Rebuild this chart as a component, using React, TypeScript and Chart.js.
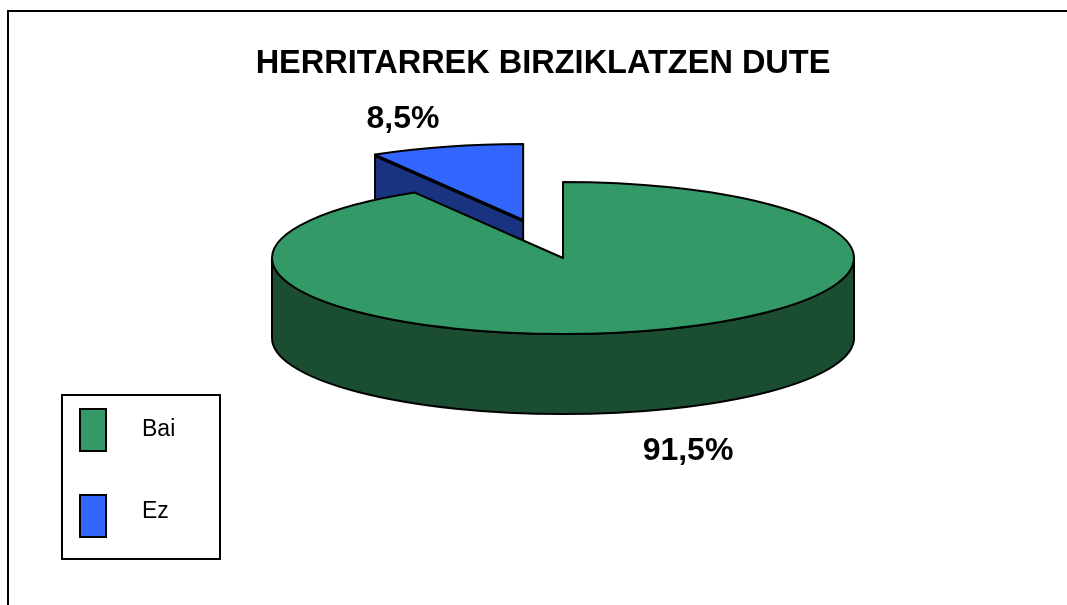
import React, { useEffect, useRef } from "react";
import { Chart, registerables } from "chart.js";

Chart.register(...registerables);

const titleText = "HERRITARREK BIRZIKLATZEN DUTE";
const categories = ["Bai", "Ez"];
const shares = [91.5, 8.5];
const pulledOut = [0, 151];
const topColors = ["#339966", "#3366FF"];
const wallColors = ["#1B4D33", "#1A3380"];

const FONT = '"Liberation Sans", Arial, sans-serif';
const CX = 563;
const CY = 258;
const RADIUS = 291;
const SQUASH = 76 / 291;
const DEPTH = 80;
const labelPos = [
  { x: 688, y: 451 },
  { x: 403, y: 119 },
];

const shift = (el: any, i: number) => {
  const h = (el.startAngle + el.endAngle) / 2;
  return { dx: Math.cos(h) * pulledOut[i], dy: Math.sin(h) * pulledOut[i] };
};

const project = (el: any, i: number, a: number, r: number) => {
  const s = shift(el, i);
  return {
    x: CX + s.dx + Math.cos(a) * r,
    y: CY + (s.dy + Math.sin(a) * r) * SQUASH,
  };
};

const rimPath = (ctx: CanvasRenderingContext2D, el: any, i: number, from: number, to: number, dy: number, ccw = false) => {
  const s = shift(el, i);
  ctx.ellipse(CX + s.dx, CY + s.dy * SQUASH + dy, el.outerRadius, el.outerRadius * SQUASH, 0, from, to, ccw);
};

const pie3d = {
  id: "pie3d",
  beforeDraw(chart: any) {
    const { ctx, width, height } = chart;
    ctx.save();
    ctx.strokeStyle = "#000";
    ctx.lineWidth = 2;
    ctx.beginPath();
    ctx.moveTo(8, height);
    ctx.lineTo(8, 11);
    ctx.lineTo(width, 11);
    ctx.stroke();
    ctx.restore();
  },
  beforeDatasetDraw(chart: any) {
    const { ctx } = chart;
    const arcs = chart.getDatasetMeta(0).data;
    const [bai, ez] = arcs;
    ctx.save();
    ctx.strokeStyle = "#000";
    ctx.lineWidth = 2;
    ctx.lineJoin = "round";

    // Ez: wall along the inner radial edge
    const apex = project(ez, 1, 0, 0);
    const rim = project(ez, 1, ez.startAngle, ez.outerRadius);
    ctx.beginPath();
    ctx.moveTo(apex.x, apex.y);
    ctx.lineTo(rim.x, rim.y);
    ctx.lineTo(rim.x, rim.y + DEPTH);
    ctx.lineTo(apex.x, apex.y + DEPTH);
    ctx.closePath();
    ctx.fillStyle = wallColors[1];
    ctx.fill();
    ctx.stroke();

    // Bai: front wall
    ctx.beginPath();
    rimPath(ctx, bai, 0, 0, Math.PI, 0);
    rimPath(ctx, bai, 0, Math.PI, 0, DEPTH, true);
    ctx.closePath();
    ctx.fillStyle = wallColors[0];
    ctx.fill();
    ctx.stroke();

    // Library arcs, squashed into the tilted plane; Ez is pulled out along its bisector
    arcs.forEach((el: any, i: number) => {
      const s = shift(el, i);
      ctx.save();
      ctx.translate(CX, CY);
      ctx.scale(1, SQUASH);
      ctx.translate(s.dx - el.x, s.dy - el.y);
      el.draw(ctx);
      ctx.restore();
    });

    // Outlines at a uniform width
    arcs.forEach((el: any, i: number) => {
      const p = project(el, i, 0, 0);
      ctx.beginPath();
      ctx.moveTo(p.x, p.y);
      rimPath(ctx, el, i, el.startAngle, el.endAngle, 0);
      ctx.closePath();
      ctx.stroke();
    });

    // heavier inner edge of the pulled-out slice
    ctx.lineWidth = 3;
    ctx.beginPath();
    ctx.moveTo(apex.x, apex.y + 1);
    ctx.lineTo(rim.x, rim.y + 1);
    ctx.stroke();
    ctx.restore();
    return false;
  },
  afterDraw(chart: any) {
    const { ctx } = chart;
    const labels = chart.data.labels as string[];
    const values = chart.data.datasets[0].data as number[];
    ctx.save();

    // value labels
    ctx.fillStyle = "#000";
    ctx.textAlign = "center";
    ctx.textBaseline = "middle";
    ctx.font = `bold 32px ${FONT}`;
    values.forEach((v, i) => {
      ctx.fillText(`${String(v).replace(".", ",")}%`, labelPos[i].x, labelPos[i].y);
    });

    // legend
    ctx.strokeStyle = "#000";
    ctx.lineWidth = 2;
    ctx.strokeRect(62, 395, 158, 164);
    ctx.textAlign = "left";
    ctx.font = `23px ${FONT}`;
    labels.forEach((name, i) => {
      const top = 409 + i * 86;
      ctx.fillStyle = topColors[i];
      ctx.fillRect(80, top, 26, 42);
      ctx.strokeRect(80, top, 26, 42);
      ctx.fillStyle = "#000";
      ctx.fillText(name, 142, 430 + i * 82);
    });
    ctx.restore();
  },
};

export default function App() {
  const ref = useRef<HTMLCanvasElement>(null);
  useEffect(() => {
    document.body.style.margin = "0";
    const chart = new Chart(ref.current!, {
      type: "pie",
      data: {
        labels: categories,
        datasets: [
          {
            data: shares,
            backgroundColor: topColors,
            borderWidth: 0,
            radius: RADIUS,
            clip: false,
          } as any,
        ],
      },
      options: {
        animation: false,
        responsive: false,
        layout: { padding: { left: 19 } },
        plugins: {
          legend: { display: false },
          tooltip: { enabled: false },
          title: {
            display: true,
            text: titleText,
            color: "#000",
            font: { family: FONT, size: 32.5, weight: "bold" },
            padding: { top: 45, bottom: 0 },
          },
        },
      } as any,
      plugins: [pie3d],
    });
    return () => chart.destroy();
  }, []);
  return <canvas ref={ref} width={1067} height={605} style={{ display: "block" }} />;
}
